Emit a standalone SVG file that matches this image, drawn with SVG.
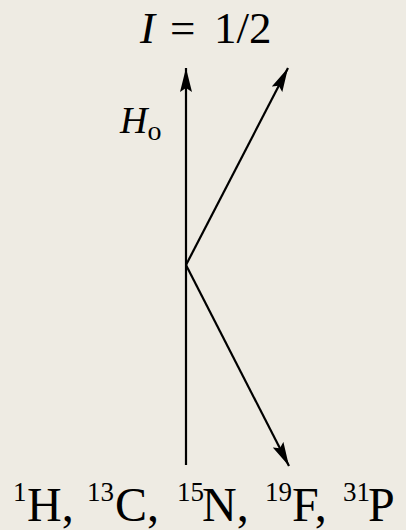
<svg xmlns="http://www.w3.org/2000/svg" width="406" height="530" viewBox="0 0 406 530">
<style>
.t{font-family:"Liberation Serif","Times New Roman",serif;fill:#000}
.ln{stroke:#000;stroke-width:2.2;fill:none}
.sup{font-size:27px}
</style>
<defs>
<marker id="ah2" viewBox="0 0 24 12" refX="24" refY="6" markerWidth="24" markerHeight="12" markerUnits="userSpaceOnUse" orient="auto">
<path d="M0,0 L24,6 L0,12 L4,6 Z" fill="#000"/>
</marker>
</defs>
<rect width="406" height="530" fill="#EEEBE3"/>
<g id="title"><text class="t" y="43" font-size="45"><tspan x="140" font-style="italic">I</tspan><tspan x="170">=</tspan><tspan x="214">1/2</tspan></text></g>
<g id="h0"><text class="t" x="120" y="133" font-size="38" font-style="italic">H<tspan font-style="normal" font-size="28" dy="7">o</tspan></text></g>
<g id="connectors">
<line class="ln" x1="186" y1="465" x2="186" y2="68" marker-end="url(#ah2)"/>
<line class="ln" x1="186" y1="265" x2="288" y2="68" marker-end="url(#ah2)"/>
<line class="ln" x1="186" y1="265" x2="289" y2="466" marker-end="url(#ah2)"/>
</g>
<g id="nuclei"><text class="t" y="521" font-size="48"><tspan class="sup" x="13" y="501">1</tspan><tspan x="27" y="521">H,</tspan><tspan class="sup" x="87" y="501">13</tspan><tspan x="115" y="521">C,</tspan><tspan class="sup" x="177" y="501">15</tspan><tspan x="202" y="521">N,</tspan><tspan class="sup" x="265" y="501">19</tspan><tspan x="292" y="521">F,</tspan><tspan class="sup" x="343" y="501">31</tspan><tspan x="368" y="521">P</tspan></text></g>
</svg>
